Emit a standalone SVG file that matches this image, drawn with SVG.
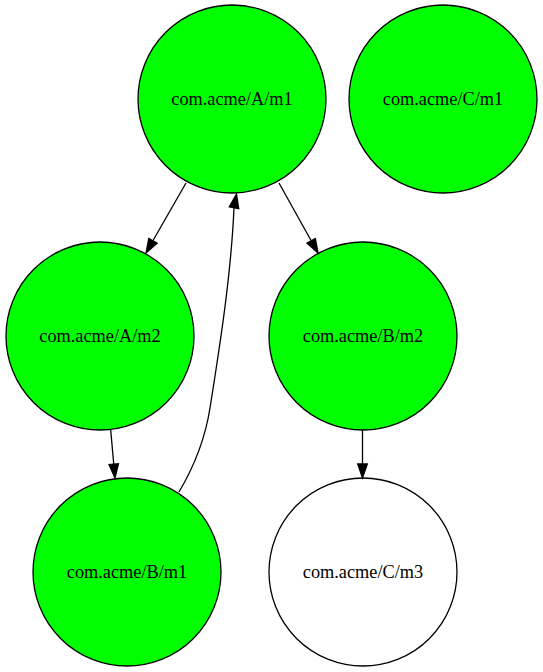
<svg xmlns="http://www.w3.org/2000/svg" width="543" height="672" viewBox="0 0 543 672">
<style>
.node circle{stroke:#000;stroke-width:1.3}
.g{fill:#00ff00}
.w{fill:#ffffff}
.node text{font-size:18.3px;text-anchor:middle;fill:#000}
.edge path{fill:none;stroke:#000;stroke-width:1.3}
.edge polygon{fill:#000;stroke:#000;stroke-width:1.3}
</style>
<rect width="543" height="672" fill="#fff"/>
<g id="nodes" font-family="'Liberation Serif', 'Times New Roman', serif">
<g id="A_m1" class="node"><circle class="g" cx="232" cy="99" r="94"/><text x="232" y="105">com.acme/A/m1</text></g>
<g id="C_m1" class="node"><circle class="g" cx="443" cy="99" r="94"/><text x="443" y="105">com.acme/C/m1</text></g>
<g id="A_m2" class="node"><circle class="g" cx="100" cy="336" r="94"/><text x="100" y="342">com.acme/A/m2</text></g>
<g id="B_m2" class="node"><circle class="g" cx="363" cy="336" r="94"/><text x="363" y="342">com.acme/B/m2</text></g>
<g id="B_m1" class="node"><circle class="g" cx="127" cy="572" r="94"/><text x="127" y="578">com.acme/B/m1</text></g>
<g id="C_m3" class="node"><circle class="w" cx="363" cy="572" r="94"/><text x="363" y="578">com.acme/C/m3</text></g>
</g>
<g id="connectors">
<g class="edge"><path d="M186,183 L152.9,240.8"/><polygon points="157.1,243.2 146,253 148.8,238.4"/></g>
<g class="edge"><path d="M279,183 L311.2,240.8"/><polygon points="315.4,238.5 318,253 307,243.1"/></g>
<g class="edge"><path d="M110.7,430 L113.75,464.1"/><polygon points="118.5,463.7 115,478 109,464.5"/></g>
<g class="edge"><path d="M362.5,430 L362.5,464"/><polygon points="367.3,464 362.5,478 357.7,464"/></g>
<g class="edge"><path d="M179,492 C195,465 205,440 210,408 C220,345 231,275 234,208"/><polygon points="238.7,208.7 236.5,194 229.3,206.9"/></g>
</g>
</svg>
